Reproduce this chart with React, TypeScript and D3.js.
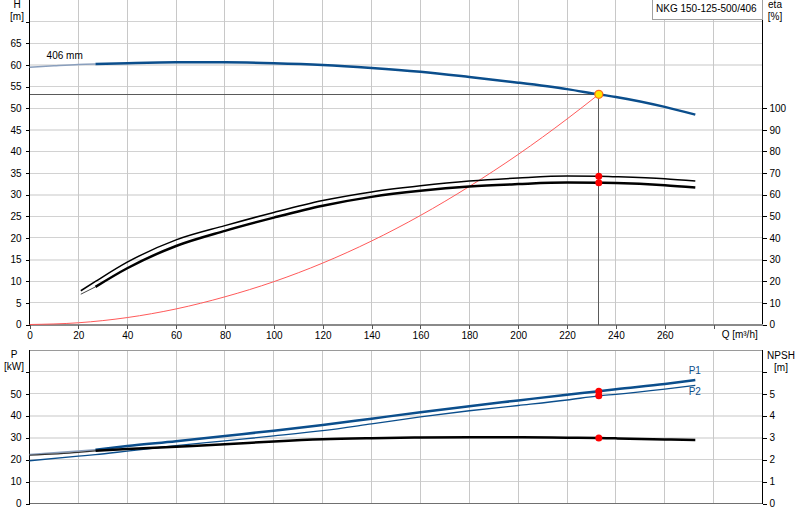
import React, { useEffect, useRef } from 'react';
import * as d3 from 'd3';

// Flow Q [m³/h] sample points and the curves
const qHead = [0, 10, 20, 27, 40, 60, 80, 100, 120, 140, 160, 180, 200, 220, 233, 240, 260, 272.5];
const headM = [59.45, 59.8, 60.1, 60.2, 60.4, 60.6, 60.6, 60.4, 60.0, 59.3, 58.4, 57.2, 55.9, 54.4, 53.2, 52.6, 50.3, 48.5];

const qSystem = [0, 20, 40, 60, 80, 100, 120, 140, 160, 180, 200, 220, 233];
const headSystem = [0, 0.4, 1.6, 3.6, 6.4, 9.9, 14.2, 19.3, 25.2, 31.9, 39.3, 47.5, 53.2];

const qEta = [21, 27, 40, 60, 80, 100, 120, 140, 160, 180, 200, 220, 233, 240, 260, 272.5];
const etaPump = [15.6, 19.9, 28.8, 39.1, 45.7, 51.8, 57.3, 61.3, 64.1, 66.3, 67.7, 68.6, 68.5, 68.3, 67.4, 66.3];
const etaTotal = [14.0, 17.4, 26.0, 36.3, 43.3, 49.4, 54.9, 59.0, 61.8, 63.8, 64.9, 65.6, 65.5, 65.4, 64.4, 63.3];

const qPower = [0, 20, 27, 40, 60, 80, 100, 120, 140, 160, 180, 200, 220, 233, 240, 260, 272.5];
const powerP1 = [22.4, 23.9, 24.5, 26.2, 28.4, 30.8, 33.2, 35.8, 38.7, 41.6, 44.4, 47.0, 49.6, 51.2, 52.1, 54.5, 56.3];
const powerP2 = [19.5, 21.6, 22.3, 23.9, 26.4, 28.6, 30.8, 33.2, 36.3, 39.5, 42.3, 44.7, 47.2, 49.1, 49.8, 52.2, 53.9];
const npshReq = [2.2, 2.33, 2.4, 2.48, 2.59, 2.7, 2.83, 2.93, 2.98, 3.01, 3.02, 3.02, 3.0, 2.99, 2.97, 2.92, 2.9];

const dutyQ = 233;
const dutyH = 53.2;
const minFlow = 27; // start of the allowed operating range

const qTicks = [0, 20, 40, 60, 80, 100, 120, 140, 160, 180, 200, 220, 240, 260, 280];
const qGrid = [20, 40, 60, 80, 100, 120, 140, 160, 180, 200, 220, 240, 260, 280];
const hTicks = [0, 5, 10, 15, 20, 25, 30, 35, 40, 45, 50, 55, 60, 65, 70];
const etaTicks = [0, 10, 20, 30, 40, 50, 60, 70, 80, 90, 100];
const pTicks = [0, 10, 20, 30, 40, 50, 60];
const npshTicks = [0, 1, 2, 3, 4, 5, 6];

const FONT = "'Liberation Sans', Arial, sans-serif";
const BLUE = '#0b4e8c';

const pairs = (qs: number[], vs: number[], lo = -Infinity, hi = Infinity): [number, number][] =>
  qs.map((q, i) => [q, vs[i]] as [number, number]).filter(([q]) => q >= lo && q <= hi);

const PumpCurveChart: React.FC = () => {
  const svgRef = useRef<SVGSVGElement>(null);

  useEffect(() => {
    if (!svgRef.current) return;
    const svg = d3.select(svgRef.current);
    svg.selectAll('*').remove();

    const x = d3.scaleLinear().domain([0, 300]).range([29.5, 762.5]);
    const yH = d3.scaleLinear().domain([0, 75]).range([324.5, 0]);
    const yEta = d3.scaleLinear().domain([0, 150]).range([324.5, 0]);
    const yP = d3.scaleLinear().domain([0, 70]).range([503.5, 350]);
    const yN = d3.scaleLinear().domain([0, 7]).range([503.5, 350]);
    const [x0, x1] = x.range();

    const grid = svg.append('g').attr('shape-rendering', 'crispEdges');

    // horizontal grid, every 15 m / every 10 kW pair drawn lighter and wider
    hTicks.filter((v) => v > 0).forEach((v) => {
      const wide = v % 15 === 0;
      grid.append('line')
        .attr('x1', x0).attr('x2', x1).attr('y1', yH(v)).attr('y2', yH(v))
        .attr('stroke', wide ? '#e3e3e3' : '#d2d2d2').attr('stroke-width', wide ? 2 : 1);
    });
    pTicks.filter((v) => v > 0).forEach((v) => {
      const wide = v === 30 || v === 40;
      grid.append('line')
        .attr('x1', x0).attr('x2', x1).attr('y1', yP(v)).attr('y2', yP(v))
        .attr('stroke', wide ? '#e3e3e3' : '#d2d2d2').attr('stroke-width', wide ? 2 : 1);
    });
    // vertical grid in both panels
    qGrid.forEach((q) => {
      grid.append('line').attr('x1', x(q)).attr('x2', x(q)).attr('y1', yH(75)).attr('y2', yH(0))
        .attr('stroke', '#c8c8c8');
      grid.append('line').attr('x1', x(q)).attr('x2', x(q)).attr('y1', yP(70)).attr('y2', yP(0))
        .attr('stroke', '#c8c8c8');
    });

    // frames
    const frame = svg.append('g').attr('shape-rendering', 'crispEdges');
    frame.append('line').attr('x1', x0).attr('x2', x0).attr('y1', 0).attr('y2', yH(0)).attr('stroke', '#000');
    frame.append('line').attr('x1', x1).attr('x2', x1).attr('y1', 0).attr('y2', yH(0)).attr('stroke', '#000');
    frame.append('line').attr('x1', x0).attr('x2', x1).attr('y1', yH(0)).attr('y2', yH(0))
      .attr('stroke', '#8a8a8a').attr('stroke-width', 2);
    frame.append('line').attr('x1', x0).attr('x2', x1).attr('y1', yP(70)).attr('y2', yP(70)).attr('stroke', '#9a9a9a');
    frame.append('line').attr('x1', x0).attr('x2', x1).attr('y1', yP(0)).attr('y2', yP(0))
      .attr('stroke', '#707070').attr('stroke-width', 1.5);
    frame.append('line').attr('x1', x0).attr('x2', x0).attr('y1', yP(70)).attr('y2', yP(0)).attr('stroke', '#000');
    frame.append('line').attr('x1', x1).attr('x2', x1).attr('y1', yP(70)).attr('y2', yP(0)).attr('stroke', '#000');

    // axes
    const styleAxis = (g: d3.Selection<SVGGElement, unknown, null, undefined>, tickColor: string) => {
      g.select('.domain').remove();
      g.selectAll('.tick line').attr('stroke', tickColor).attr('shape-rendering', 'crispEdges');
      g.selectAll('.tick text').attr('fill', '#000').attr('font-size', 10).attr('font-family', FONT);
    };

    svg.append('g').attr('transform', `translate(${x0},0)`)
      .call(d3.axisLeft(yH).tickValues(hTicks).tickSize(4).tickPadding(4)
        .tickFormat((v) => ((v as number) === 70 ? '' : String(v))))
      .call((g) => styleAxis(g, '#000'));
    svg.append('g').attr('transform', `translate(${x1},0)`)
      .call(d3.axisRight(yEta).tickValues(etaTicks).tickSize(4).tickPadding(3))
      .call((g) => styleAxis(g, '#000'));
    svg.append('g').attr('transform', `translate(0,${yH(0)})`)
      .call(d3.axisBottom(x).tickValues(qTicks).tickSize(4).tickPadding(3)
        .tickFormat((v) => ((v as number) === 280 ? '' : String(v))))
      .call((g) => styleAxis(g, '#555'));
    svg.append('g').attr('transform', `translate(${x0},0)`)
      .call(d3.axisLeft(yP).tickValues(pTicks).tickSize(4).tickPadding(4)
        .tickFormat((v) => ((v as number) === 60 ? '' : String(v))))
      .call((g) => styleAxis(g, '#000'));
    svg.append('g').attr('transform', `translate(${x1},0)`)
      .call(d3.axisRight(yN).tickValues(npshTicks).tickSize(4).tickPadding(3)
        .tickFormat((v) => ((v as number) === 6 ? '' : String(v))))
      .call((g) => styleAxis(g, '#000'));

    const txt = (tx: number, ty: number, s: string, anchor = 'start', fill = '#000', size = 10) =>
      svg.append('text').attr('x', tx).attr('y', ty).attr('text-anchor', anchor)
        .attr('font-family', FONT).attr('font-size', size).attr('fill', fill).text(s);

    txt(17, 8, 'H', 'middle');
    txt(17, 20, '[m]', 'middle');
    txt(775, 8, 'eta', 'middle');
    txt(775, 20, '[%]', 'middle');
    txt(14, 358, 'P', 'middle');
    txt(14, 370, '[kW]', 'middle');
    txt(781, 359, 'NPSH', 'middle');
    txt(781, 371, '[m]', 'middle');
    txt(x(280) + 8, 338, 'Q [m³/h]');

    // curves
    const lineH = d3.line<[number, number]>().x((d) => x(d[0])).y((d) => yH(d[1])).curve(d3.curveMonotoneX);
    const lineEta = d3.line<[number, number]>().x((d) => x(d[0])).y((d) => yEta(d[1])).curve(d3.curveMonotoneX);
    const lineP = d3.line<[number, number]>().x((d) => x(d[0])).y((d) => yP(d[1])).curve(d3.curveMonotoneX);
    const lineN = d3.line<[number, number]>().x((d) => x(d[0])).y((d) => yN(d[1])).curve(d3.curveMonotoneX);

    const path = (d: string | null, stroke: string, width: number) =>
      svg.append('path').attr('d', d ?? '').attr('fill', 'none').attr('stroke', stroke)
        .attr('stroke-width', width).attr('stroke-linejoin', 'round');

    // system curve
    path(lineH(pairs(qSystem, headSystem)), '#ff5a5a', 1);

    // duty point cross hair
    svg.append('line').attr('x1', x0).attr('x2', x(dutyQ)).attr('y1', yH(dutyH)).attr('y2', yH(dutyH))
      .attr('stroke', '#5a5a5a').attr('shape-rendering', 'crispEdges');
    svg.append('line').attr('x1', x(dutyQ)).attr('x2', x(dutyQ)).attr('y1', yH(dutyH)).attr('y2', yH(0))
      .attr('stroke', '#5a5a5a').attr('shape-rendering', 'crispEdges');

    // head
    path(lineH(pairs(qHead, headM, 0, minFlow)), '#8a9fbd', 1.5);
    path(lineH(pairs(qHead, headM, minFlow)), BLUE, 2.5);

    // efficiencies
    path(lineEta(pairs(qEta, etaPump)), '#000', 1.5);
    path(lineEta(pairs(qEta, etaTotal, 0, minFlow)), '#444', 1);
    path(lineEta(pairs(qEta, etaTotal, minFlow)), '#000', 2.5);

    // power and NPSH
    path(lineP(pairs(qPower, powerP1, 0, minFlow)), '#8a9fbd', 1.5);
    path(lineP(pairs(qPower, powerP1, minFlow)), BLUE, 2.5);
    path(lineP(pairs(qPower, powerP2)), BLUE, 1.3);
    path(lineN(pairs(qPower, npshReq, 0, minFlow)), '#333', 1.2);
    path(lineN(pairs(qPower, npshReq, minFlow)), '#000', 2.5);

    // duty markers
    const dot = (cx: number, cy: number) =>
      svg.append('circle').attr('cx', cx).attr('cy', cy).attr('r', 3.5).attr('fill', '#ff0000');
    const di = qEta.indexOf(dutyQ);
    dot(x(dutyQ), yEta(etaPump[di]));
    dot(x(dutyQ), yEta(etaTotal[di]));
    const pi = qPower.indexOf(dutyQ);
    dot(x(dutyQ), yP(powerP1[pi]));
    dot(x(dutyQ), yP(powerP2[pi]));
    dot(x(dutyQ), yN(npshReq[pi]));
    svg.append('circle').attr('cx', x(dutyQ)).attr('cy', yH(dutyH)).attr('r', 4)
      .attr('fill', '#ffe600').attr('stroke', '#ff6a1a').attr('stroke-width', 1.2);

    // curve labels
    txt(x(7), yH(61.3), '406 mm');
    txt(x(269.8), yP(59), 'P1', 'start', BLUE);
    txt(x(269.8), yP(49.7), 'P2', 'start', BLUE);

    // pump name box
    svg.append('rect').attr('x', 652.5).attr('y', -1).attr('width', 110).attr('height', 20)
      .attr('fill', '#fff').attr('stroke', '#a0a0a0').attr('shape-rendering', 'crispEdges');
    txt(656, 12, 'NKG 150-125-500/406');
  }, []);

  return (
    <svg
      ref={svgRef}
      width={800}
      height={520}
      style={{ position: 'absolute', left: 0, top: 0, background: '#fff' }}
    />
  );
};

export default function App() {
  return <PumpCurveChart />;
}
